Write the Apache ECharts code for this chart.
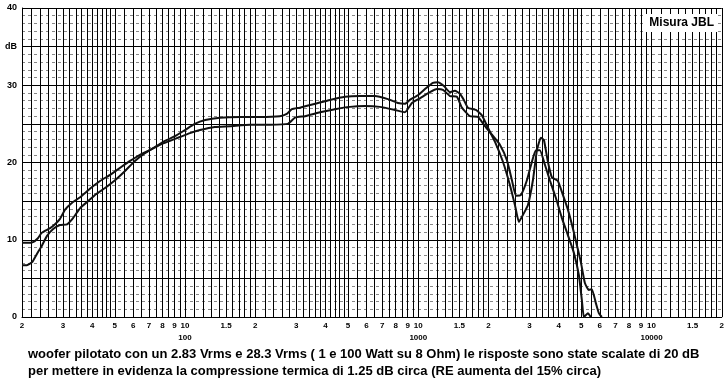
<!DOCTYPE html>
<html><head><meta charset="utf-8">
<script src="https://cdn.jsdelivr.net/npm/echarts@6/dist/echarts.min.js"></script>
<style>html,body{margin:0;padding:0;background:#fff}#c{width:727px;height:382px}</style>
</head><body><div id="c"></div>
<script>
// Curve A (higher at 20 Hz, lower in the midrange)
const freqA = [20,21.2,22.3,23.4,24.3,26.4,27.7,29.1,30.6,32.8,35.5,39.1,43.2,47.7,52.6,58.1,64.1,70.7,78.1,86.2,95.1,105,116,134,156,190,231,276,296,327,379,439,509,590,684,794,876,939,1016,1122,1202,1276,1367,1464,1538,1664,1802,1931,2069,2238,2398,2520,2622,2755,2922,3070,3192,3321,3490,3664,3890,4127,4378,4645,4881,5026,5128,5335,5493];
const dbA = [9.6,9.6,9.7,10.2,10.9,11.5,12.0,12.7,13.9,14.8,15.5,16.6,17.6,18.4,19.3,20.2,21.0,21.6,22.3,22.8,23.3,23.8,24.2,24.6,24.7,24.9,24.9,25.0,25.8,26.0,26.5,26.9,27.2,27.3,27.2,26.8,26.5,27.7,28.3,29.1,29.5,29.4,28.6,28.5,27.1,26.0,25.9,24.7,23.6,22.3,20.3,17.7,15.7,15.8,17.7,20.1,21.6,21.6,19.7,17.7,15.4,12.8,10.6,8.3,5.4,2.2,0,0.5,0];
// Curve B (lower at 20 Hz, higher in the midrange)
const freqB = [20,21.0,22.1,23.2,24.4,25.6,27.2,29.1,31.2,33.1,35.5,38.4,41.5,45.4,50.1,55.3,61.0,67.3,74.3,82.0,90.5,99.9,110,122,141,172,209,255,273,287,311,361,418,485,562,652,741,818,876,920,996,1078,1155,1214,1288,1367,1435,1508,1568,1632,1766,1874,1988,2130,2306,2470,2596,2700,2808,2952,3100,3226,3354,3456,3594,3738,3966,4168,4378,4598,4784,4976,5178,5386,5546,5770,5944,6122];
const dbB = [6.7,6.7,7.1,8.2,9.3,10.5,11.4,11.9,12.0,12.8,14.1,15.0,15.9,16.7,17.7,18.9,20.2,21.2,22.0,22.8,23.4,24.2,25.0,25.5,25.8,25.9,25.9,26.0,26.3,26.9,27.1,27.6,28.1,28.5,28.6,28.6,28.2,27.7,27.6,28.1,28.7,29.6,30.3,30.4,29.9,29.1,29.3,28.9,28.1,27.1,26.8,26.1,24.5,22.7,20.1,17.1,14.5,12.3,13.2,14.5,17.7,21.6,23.2,22.9,20.1,18.1,17.6,15.8,13.9,11.5,9.3,7.1,4.4,3.5,3.6,1.8,0.5,0];

// Tick labels on the frequency axis
const labelFreqs = [20,30,40,50,60,70,80,90,100,150,200,300,400,500,600,700,800,900,1000,1500,2000,3000,4000,5000,6000,7000,8000,9000,10000,15000,20000];
const labelTexts = ['2','3','4','5','6','7','8','9','10\n100','1.5','2','3','4','5','6','7','8','9','10\n1000','1.5','2','3','4','5','6','7','8','9','10\n10000','1.5','2'];
// Grid paper mantissas per decade
const gridMantissas = [1.0,1.1,1.2,1.3,1.4,1.5,1.6,1.7,1.8,1.9,2.0,2.2,2.4,2.6,2.8,3.0,3.2,3.4,3.6,3.8,4.0,4.2,4.4,4.6,4.8,5.0,5.5,6.0,6.5,7.0,7.5,8.0,8.5,9.0,9.5];
const gridDecades = [10,100,1000,10000];
const yLabels = {0:'0',10:'10',20:'20',30:'30',35:'dB',40:'40'};

const captionText = 'woofer pilotato con un 2.83 Vrms e 28.3 Vrms ( 1 e 100 Watt su 8 Ohm) le risposte sono state scalate di 20 dB\nper mettere in evidenza la compressione termica di 1.25 dB circa (RE aumenta del 15% circa)';

const L = Math.log10;
const gridX = [];
gridDecades.forEach(d => gridMantissas.forEach(m => { const f = d*m; if (f >= 20-1e-9 && f <= 20000+1e-9) gridX.push(L(f)); }));
gridX.push(L(20000));
const labelX = labelFreqs.map(L);

const chart = echarts.init(document.getElementById('c'), null, {renderer:'canvas'});
chart.setOption({
  animation:false,
  backgroundColor:'#fff',
  title:[
    {text:captionText, left:23, top:341, textStyle:{fontFamily:'Liberation Sans, Arial, sans-serif', fontSize:13, fontWeight:'bold', color:'#000', lineHeight:17}},
    {text:'Misura JBL', right:9, top:14, backgroundColor:'#fff', padding:[3,4,3,4], textStyle:{fontFamily:'Liberation Sans, Arial, sans-serif', fontSize:12, fontWeight:'bold', color:'#000'}}
  ],
  grid:{left:22, right:5, top:8, bottom:65, containLabel:false},
  xAxis:{type:'value', min:L(20), max:L(20000),
    axisLine:{show:true, lineStyle:{color:'#000', width:1}},
    axisTick:{show:false, customValues:gridX},
    splitLine:{show:true, lineStyle:{color:'#000', width:1}},
    axisLabel:{customValues:labelX, margin:3, fontSize:8, fontWeight:'bold', color:'#000', lineHeight:12,
      fontFamily:'Liberation Sans, Arial, sans-serif',
      formatter:(v)=>{ let best=0, bd=1e9; labelX.forEach((x,i)=>{const d=Math.abs(x-v); if(d<bd){bd=d;best=i;}}); return labelTexts[best]; }}
  },
  yAxis:{type:'value', min:0, max:40, interval:5,
    axisLine:{show:true, lineStyle:{color:'#000', width:1}},
    axisTick:{show:false},
    axisLabel:{margin:5, fontSize:9, fontWeight:'bold', color:'#000', fontFamily:'Liberation Sans, Arial, sans-serif',
      formatter:(v)=> (yLabels[v] !== undefined ? yLabels[v] : '')},
    splitLine:{show:true, lineStyle:{color:'#000', width:1}},
    minorTick:{show:false, splitNumber:5},
    minorSplitLine:{show:true, lineStyle:{color:'#888', width:1, type:[3,3]}}
  },
  series:[
    {type:'line', data:freqA.map((f,i)=>[L(f), dbA[i]]), showSymbol:false, smooth:0.15, clip:true,
     lineStyle:{color:'#111', width:2}},
    {type:'line', data:freqB.map((f,i)=>[L(f), dbB[i]]), showSymbol:false, smooth:0.15, clip:true,
     lineStyle:{color:'#111', width:2}}
  ]
});
</script></body></html>
